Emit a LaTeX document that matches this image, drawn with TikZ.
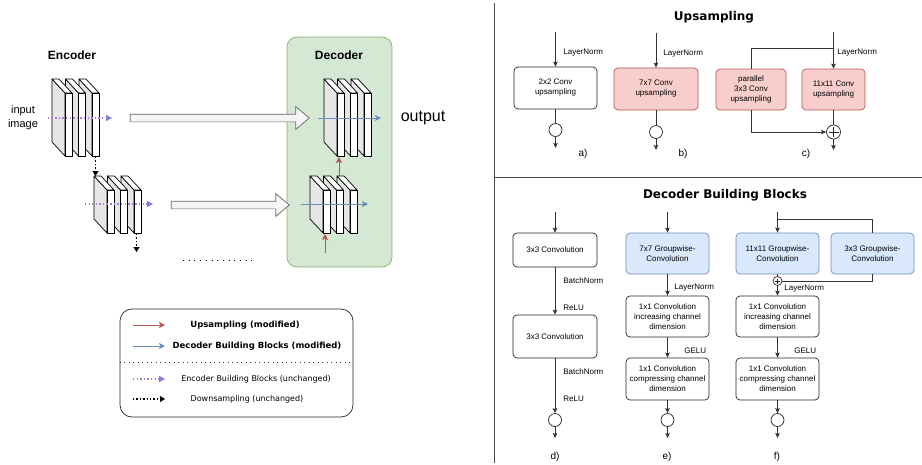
\documentclass[tikz,border=0pt]{standalone}
\usepackage{fontspec}
\setmainfont{Liberation Sans}
\newfontfamily\dejavu{DejaVu Sans}
\usepackage{tikz}
\usetikzlibrary{positioning,arrows.meta,calc,shapes.arrows}

\definecolor{upred}{HTML}{B85450}
\definecolor{upredfill}{HTML}{F8CECC}
\definecolor{decblue}{HTML}{6C8EBF}
\definecolor{decbluefill}{HTML}{DAE8FC}
\definecolor{decgreen}{HTML}{82B366}
\definecolor{decgreenfill}{HTML}{D5E8D4}
\definecolor{encpurple}{HTML}{A57BD3}
\definecolor{encpurpletip}{HTML}{8080D6}
\definecolor{slabgray}{HTML}{E6E6E6}
\definecolor{linegray}{HTML}{333333}

% one feature-map slab: front face at (#1,#2), height #3
\newcommand{\fmapslab}[3]{%
  \filldraw[slab, fill=slabgray] (#1,#2) -- ++(-13,-14) -- ++(0,#3) -- ++(13,14) -- cycle;
  \filldraw[slab, fill=white] (#1,#2) -- ++(-13,-14) -- ++(7,0) -- ++(13,14) -- cycle;
  \filldraw[slab, fill=white] (#1,#2) rectangle ++(7,#3);}
\newcommand{\fmapstack}[3]{\fmapslab{#1+27}{#2}{#3}\fmapslab{#1+13.5}{#2}{#3}\fmapslab{#1}{#2}{#3}}

\begin{document}
\begin{tikzpicture}[x=1pt, y=-1pt,
  font=\fontsize{8}{10}\selectfont,
  slab/.style={draw=black, line width=0.7pt, line join=round},
  box/.style={draw=black!85, rounded corners=4pt, align=center, fill=white, minimum width=83pt, minimum height=41pt, inner sep=2pt, line width=0.7pt},
  upbox/.style={box, fill=upredfill, draw=upred},
  gwbox/.style={box, fill=decbluefill, draw=decblue},
  sumc/.style={circle, draw=black!85, fill=white, minimum size=13pt, inner sep=0pt, line width=0.7pt},
  plusc/.style={sumc, path picture={\draw[line width=0.6pt] ([yshift=-2pt]path picture bounding box.north) -- ([yshift=2pt]path picture bounding box.south) ([xshift=2pt]path picture bounding box.west) -- ([xshift=-2pt]path picture bounding box.east);}},
  arr/.style={-{Stealth[length=5pt,width=4.5pt,inset=1pt]}, draw=linegray, line width=0.7pt},
  ln/.style={draw=linegray, line width=0.7pt},
  lab/.style={right=#1, inner sep=0pt},
  sub/.style={font=\fontsize{10}{12}\selectfont},
  title/.style={font=\dejavu\bfseries\fontsize{12}{14}\selectfont},
  parttitle/.style={font=\bfseries\fontsize{12}{14}\selectfont},
  encarr/.style={encpurple, line width=1.4pt, dash pattern=on 1.4pt off 2.2pt, -{Triangle[length=6pt,width=6pt,color=encpurpletip]}},
  downarr/.style={black, dotted, line width=1.4pt, -{Triangle[length=5pt,width=6pt]}},
  uparr/.style={upred, line width=0.8pt, -{Stealth[length=6pt,width=6pt,inset=1.5pt]}},
  decarr/.style={decblue, line width=0.8pt, -{Stealth[length=6pt,width=6pt,inset=1.5pt]}},
  skip/.style={single arrow, draw=black!60, fill=black!4, line width=0.7pt, inner xsep=0pt, inner ysep=3.5pt, single arrow head extend=7.5pt, single arrow tip angle=80},
  legtext/.style={font=\dejavu\fontsize{8}{10}\selectfont},
  legbold/.style={font=\dejavu\bfseries\fontsize{8.5}{10}\selectfont}
]
\useasboundingbox (0,0) rectangle (922,464);

% ---------- left: encoder / decoder overview ----------
\node[draw=decgreen, fill=decgreenfill, rounded corners=10pt, minimum width=105pt, minimum height=230pt, line width=0.7pt] (decbox) at (339.5,152) {};
\node[parttitle] (enctitle) at (72,55) {Encoder};
\node[parttitle] (dectitle) at (339,55) {Decoder};
\node[align=center, font=\fontsize{11}{14}\selectfont] (input) at (23,118) {input\\image};
\node[font=\fontsize{16}{18}\selectfont] (output) at (423,118) {output};

\node[skip, minimum height=179pt] (skip1) at (217.5,118) {};
\node[skip, minimum height=118pt] (skip2) at (228,205) {};

\fmapstack{65}{93}{63}
\fmapstack{107}{190}{43}
\fmapstack{337}{93}{63}
\fmapstack{323}{190}{43}

\coordinate (enc1 in) at (48,118);   \coordinate (enc1 out) at (112,118);
\coordinate (enc2 in) at (85,204);   \coordinate (enc2 out) at (153,204);
\coordinate (enc1 base) at (95.5,157);  \coordinate (enc2 top) at (95.5,176);
\coordinate (enc2 base) at (136.5,234); \coordinate (enc3 top) at (136.5,252);
\coordinate (dec1 in) at (318,118);  \coordinate (dec1 out) at (381,118);
\coordinate (dec2 in) at (301,204);  \coordinate (dec2 out) at (368,204);
\coordinate (dec1 base) at (339,157); \coordinate (dec2 top) at (339,176);
\coordinate (dec2 base) at (325,234); \coordinate (dec3 top) at (325,253);

\draw[encarr] (enc1 in) -- (enc1 out);
\draw[encarr] (enc2 in) -- (enc2 out);
\draw[downarr] (enc1 base) -- (enc2 top);
\draw[downarr] (enc2 base) -- (enc3 top);
\draw[decarr] (dec1 in) -- (dec1 out);
\draw[decarr] (dec2 in) -- (dec2 out);
\draw[uparr] (dec2 top) -- (dec1 base);
\draw[uparr] (dec3 top) -- (dec2 base);
\draw[line width=1pt, dash pattern=on 1pt off 4.7pt] (183,260) -- (257,260);

% legend
\node[draw=black!85, rounded corners=12pt, minimum width=233pt, minimum height=108pt, line width=0.7pt] (legend) at (236.5,363) {};
\coordinate (lsep) at (0,362);
\draw[line width=0.9pt, dash pattern=on 0.9pt off 3.6pt, black!80] (legend.west |- lsep) -- (legend.east |- lsep);
\foreach \y/\s in {325/uparr, 346/decarr, 379/encarr, 399/downarr}{
  \coordinate (leg\y a) at (133,\y); \coordinate (leg\y b) at (165,\y);
  \draw[\s] (leg\y a) -- (leg\y b);}
\node[legbold] (legup) at (245,325) {Upsampling (modified)};
\node[legbold] (legdec) at (257,346) {Decoder Building Blocks (modified)};
\node[legtext] (legenc) at (256,379) {Encoder Building Blocks (unchanged)};
\node[legtext] (legdown) at (247,399) {Downsampling (unchanged)};

% ---------- right panels ----------
\draw[draw=black!70, line width=1pt] (494,3) -- (494,463);
\draw[draw=black!70, line width=1pt] (494,177) -- (922,177);

% upsampling variants a) b) c)
\node[title] (uptitle) at (714,17) {Upsampling};
\node[box, minimum height=42pt] (ua) at (555.5,88) {2x2 Conv\\upsampling};
\node[upbox, minimum width=84pt, minimum height=42pt] (ub) at (656,89) {7x7 Conv\\upsampling};
\node[upbox, minimum width=70pt] (uc1) at (751,89.5) {parallel\\3x3 Conv\\upsampling};
\node[upbox, minimum width=63pt] (uc2) at (833.5,89.5) {11x11 Conv\\upsampling};
\node[sumc] (ca) at (555.5,130) {};
\node[sumc] (cb) at (656,132) {};
\node[plusc, minimum size=14pt] (pc) at (833.5,132) {};
\coordinate (ua in) at (555.5,32);  \coordinate (ua out) at (555.5,148);
\coordinate (ub in) at (656,33);    \coordinate (ub out) at (656,150);
\coordinate (uc in) at (833.5,32);  \coordinate (uc out) at (833.5,150);
\coordinate (uc split) at (833.5,48);
\draw[arr] (ua in) -- node[lab=7.5pt, pos=0.6]{LayerNorm} (ua);
\draw[ln] (ua) -- (ca);
\draw[arr] (ca) -- (ua out);
\draw[arr] (ub in) -- node[lab=7pt, pos=0.6]{LayerNorm} (ub);
\draw[ln] (ub) -- (cb);
\draw[arr] (cb) -- (ub out);
\draw[arr] (uc in) -- node[lab=3.5pt, pos=0.57]{LayerNorm} (uc2);
\draw[ln] (uc split) -| (uc1.north);
\draw[ln] (uc2) -- (pc);
\draw[arr] (uc1.south) |- (pc.west);
\draw[arr] (pc) -- (uc out);
\node[sub] (suba) at (583,154) {a)};
\node[sub] (subb) at (683,154) {b)};
\node[sub] (subc) at (806,154) {c)};

% decoder building blocks d) e) f)
\node[title] (dbtitle) at (725,195) {Decoder Building Blocks};
\node[box, minimum width=84pt, minimum height=34pt] (d1) at (555,250) {3x3 Convolution};
\node[box, minimum width=84pt, minimum height=43pt] (d2) at (555,336.5) {3x3 Convolution};
\node[sumc] (dc) at (555,420) {};
\coordinate (d in) at (555,212); \coordinate (d out) at (555,438);
\draw[arr] (d in) -- (d1);
\draw[arr] (d1) -- node[lab=8pt, pos=0.29]{BatchNorm} node[lab=8pt, pos=0.85]{ReLU} (d2);
\draw[arr] (d2) -- node[lab=8pt, pos=0.25]{BatchNorm} node[lab=8pt, pos=0.74]{ReLU} (dc);
\draw[arr] (dc) -- (d out);

\node[gwbox] (e1) at (667.5,253.5) {7x7 Groupwise-\\Convolution};
\node[box] (e2) at (667.5,316.5) {1x1 Convolution\\increasing channel\\dimension};
\node[box, minimum height=42pt] (e3) at (667.5,379) {1x1 Convolution\\compressing channel\\dimension};
\node[sumc] (ec) at (667.5,420) {};
\coordinate (e in) at (667.5,212); \coordinate (e out) at (667.5,438);
\draw[arr] (e in) -- (e1);
\draw[arr] (e1) -- node[lab=6.5pt, pos=0.64]{LayerNorm} (e2);
\draw[arr] (e2) -- node[lab=16.5pt, pos=0.67]{GELU} (e3);
\draw[arr] (e3) -- (ec);
\draw[arr] (ec) -- (e out);

\node[gwbox] (f1) at (777.5,253.5) {11x11 Groupwise-\\Convolution};
\node[gwbox] (f2) at (872.5,253.5) {3x3 Groupwise-\\Convolution};
\node[plusc, minimum size=9pt] (fp) at (777.5,281) {};
\node[box] (f3) at (777.5,316.5) {1x1 Convolution\\increasing channel\\dimension};
\node[box, minimum height=42pt] (f4) at (777.5,379) {1x1 Convolution\\compressing channel\\dimension};
\node[sumc] (fc) at (777.5,420) {};
\coordinate (f in) at (777.5,212); \coordinate (f out) at (777.5,438);
\coordinate (f split) at (777.5,219);
\draw[arr] (f in) -- (f1);
\draw[ln] (f split) -| (f2.north);
\draw[ln] (f1) -- (fp);
\draw[ln] (f2.south) |- (fp.east);
\draw[arr] (fp) -- node[lab=6.5pt, pos=0.25]{LayerNorm} (f3);
\draw[arr] (f3) -- node[lab=16.5pt, pos=0.67]{GELU} (f4);
\draw[arr] (f4) -- (fc);
\draw[arr] (fc) -- (f out);
\node[sub] (subd) at (555,457) {d)};
\node[sub] (sube) at (667,457) {e)};
\node[sub] (subf) at (777,457) {f)};
\end{tikzpicture}
\end{document}
